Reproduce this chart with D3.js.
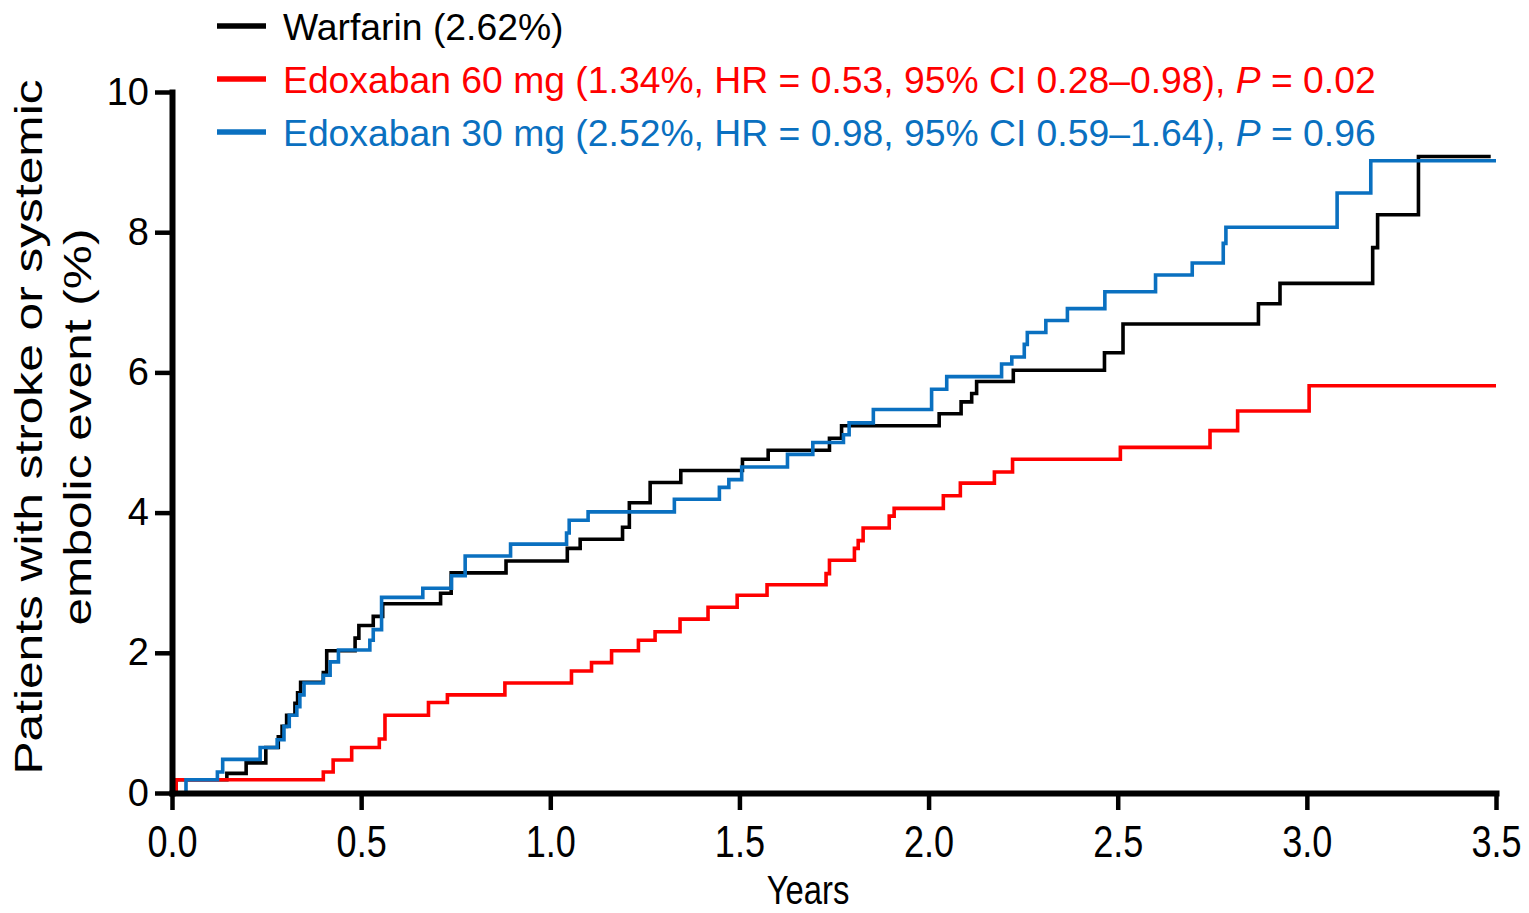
<!DOCTYPE html>
<html>
<head>
<meta charset="utf-8">
<script src="https://cdn.jsdelivr.net/npm/d3@7"></script>
<style>
body { margin: 0; background: #fff; }
svg { display: block; font-family: "Liberation Sans", Arial, sans-serif; }
</style>
</head>
<body>
<svg id="chart" width="1529" height="913"></svg>
<script>
// event times (years) and cumulative % after each event
var warfarinT = [0.011, 0.145, 0.196, 0.248, 0.281, 0.291, 0.303, 0.325, 0.332, 0.340, 0.400, 0.409,
  0.484, 0.494, 0.532, 0.557, 0.710, 0.738, 0.883, 1.045, 1.079, 1.191, 1.209, 1.264, 1.345,
  1.508, 1.576, 1.738, 1.770, 2.028, 2.086, 2.114, 2.127, 2.224, 2.465, 2.514, 2.872, 2.929,
  3.174, 3.187, 3.295];
var warfarinY = [0.19, 0.28, 0.43, 0.65, 0.80, 0.95, 1.11, 1.28, 1.43, 1.58, 1.72, 2.03,
  2.21, 2.39, 2.52, 2.70, 2.85, 3.14, 3.31, 3.49, 3.62, 3.79, 4.14, 4.43, 4.60,
  4.76, 4.89, 5.06, 5.24, 5.41, 5.58, 5.70, 5.87, 6.03, 6.28, 6.69, 6.98, 7.27,
  7.78, 8.25, 9.08];

var edox60T = [0.011, 0.400, 0.426, 0.475, 0.548, 0.563, 0.678, 0.728, 0.880, 1.056, 1.109, 1.162,
  1.233, 1.277, 1.343, 1.417, 1.494, 1.573, 1.729, 1.738, 1.804, 1.814, 1.827, 1.896, 1.909,
  2.039, 2.084, 2.174, 2.222, 2.507, 2.744, 2.817, 3.006];
var edox60Y = [0.19, 0.30, 0.47, 0.65, 0.77, 1.11, 1.29, 1.40, 1.57, 1.74, 1.86, 2.03,
  2.18, 2.30, 2.48, 2.65, 2.82, 2.97, 3.13, 3.32, 3.49, 3.60, 3.78, 3.95, 4.06,
  4.24, 4.42, 4.58, 4.76, 4.93, 5.17, 5.45, 5.81];

var edox30T = [0.037, 0.120, 0.134, 0.233, 0.278, 0.296, 0.310, 0.330, 0.338, 0.349, 0.400, 0.418,
  0.440, 0.523, 0.532, 0.554, 0.663, 0.739, 0.775, 0.895, 1.043, 1.050, 1.100, 1.328, 1.447,
  1.472, 1.506, 1.627, 1.694, 1.775, 1.790, 1.854, 2.008, 2.048, 2.193, 2.220, 2.253, 2.261,
  2.310, 2.367, 2.466, 2.600, 2.697, 2.779, 2.786, 3.080, 3.169];
var edox30Y = [0.19, 0.30, 0.48, 0.65, 0.76, 0.95, 1.11, 1.23, 1.40, 1.57, 1.68, 1.87,
  2.04, 2.18, 2.33, 2.79, 2.92, 3.10, 3.38, 3.55, 3.71, 3.89, 4.01, 4.19, 4.36,
  4.47, 4.65, 4.83, 5.00, 5.11, 5.28, 5.47, 5.76, 5.94, 6.12, 6.22, 6.40, 6.57,
  6.74, 6.91, 7.15, 7.39, 7.56, 7.84, 8.07, 8.56, 9.02];

// last follow-up time of each curve
var endTimes = [3.486, 3.5, 3.5];

var seriesLabels = [
  "Warfarin (2.62%)",
  "Edoxaban 60 mg (1.34%, HR = 0.53, 95% CI 0.28\u20130.98), P = 0.02",
  "Edoxaban 30 mg (2.52%, HR = 0.98, 95% CI 0.59\u20131.64), P = 0.96"
];
var xTicks = [0, 0.5, 1.0, 1.5, 2.0, 2.5, 3.0, 3.5];
var yTicks = [0, 2, 4, 6, 8, 10];
var xTitle = "Years";
var yTitle = ["Patients with stroke or systemic", "embolic event (%)"];

var colors = ["#000000", "#ff0000", "#0a70c0"];

var svg = d3.select("#chart");

var x = d3.scaleLinear().domain([0, 3.5]).range([172, 1496]);
var y = d3.scaleLinear().domain([0, 10]).range([793, 92]);

function stepPoints(ts, vs, tEnd) {
  var pts = [[0, 0]];
  ts.forEach(function(t, i) { pts.push([t, vs[i]]); });
  pts.push([tEnd, vs[vs.length - 1]]);
  return pts;
}

var series = [
  stepPoints(warfarinT, warfarinY, endTimes[0]),
  stepPoints(edox60T, edox60Y, endTimes[1]),
  stepPoints(edox30T, edox30Y, endTimes[2])
];

var line = d3.line()
  .x(function(d) { return x(d[0]); })
  .y(function(d) { return y(d[1]); })
  .curve(d3.curveStepAfter);

/* curves: warfarin, 60 mg, then 30 mg on top */
svg.append("g").selectAll("path")
  .data(series)
  .enter().append("path")
  .attr("fill", "none")
  .attr("stroke", function(d, i) { return colors[i]; })
  .attr("stroke-width", 3.6)
  .attr("stroke-linejoin", "miter")
  .attr("d", line);

// x axis
var gx = svg.append("g")
  .attr("transform", "translate(0,793)")
  .call(d3.axisBottom(x).tickValues(xTicks).tickFormat(d3.format(".1f"))
    .tickSize(17).tickSizeOuter(0).tickPadding(16));
gx.attr("font-size", null).attr("font-family", null);
gx.select(".domain").attr("stroke-width", 6).attr("stroke-linecap", "square");
gx.selectAll(".tick line").attr("stroke-width", 4.5);
gx.selectAll(".tick text")
  .attr("font-size", 44)
  .attr("fill", "#000")
  .attr("transform", "scale(0.82,1)");

// y axis
var gy = svg.append("g")
  .attr("transform", "translate(172,0)")
  .call(d3.axisLeft(y).tickValues(yTicks).tickSize(17).tickSizeOuter(0).tickPadding(6));
gy.attr("font-size", null).attr("font-family", null);
gy.select(".domain").attr("stroke-width", 6).attr("stroke-linecap", "square");
gy.selectAll(".tick line").attr("stroke-width", 4.5);
gy.selectAll(".tick text")
  .attr("font-size", 38)
  .attr("fill", "#000");

// axis titles
svg.append("g")
  .attr("transform", "translate(808,904)")
  .append("text")
  .attr("text-anchor", "middle")
  .attr("font-size", 41)
  .attr("transform", "scale(0.8,1)")
  .text(xTitle);

var yLens = [695, 397];
yTitle.forEach(function(t, i) {
  svg.append("g")
    .attr("transform", "translate(" + (42 + 49 * i) + ",427) rotate(-90)")
    .append("text")
    .attr("text-anchor", "middle")
    .attr("font-size", 39)
    .attr("textLength", yLens[i])
    .attr("lengthAdjust", "spacingAndGlyphs")
    .text(t);
});

// legend
var legend = svg.append("g");
seriesLabels.forEach(function(lab, i) {
  var row = legend.append("g").attr("transform", "translate(0," + (26 + 53 * i) + ")");
  row.append("line")
    .attr("x1", 217).attr("x2", 266)
    .attr("stroke", colors[i])
    .attr("stroke-width", 5.5);
  var txt = row.append("text")
    .attr("x", 283)
    .attr("y", 14)
    .attr("font-size", 37.3)
    .attr("fill", colors[i]);
  var k = lab.indexOf(", P =");
  if (k < 0) {
    txt.text(lab);
  } else {
    txt.append("tspan").text(lab.slice(0, k + 2));
    txt.append("tspan").attr("font-style", "italic").text("P");
    txt.append("tspan").text(lab.slice(k + 3));
  }
});
</script>
</body>
</html>
